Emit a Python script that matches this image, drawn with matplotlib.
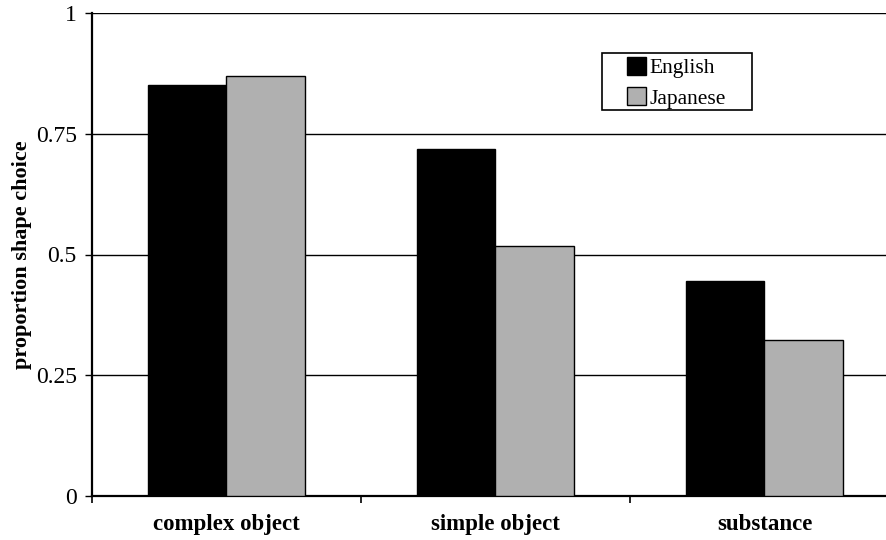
#!/usr/bin/env python3
"""Proportion of shape choices by stimulus type, English vs Japanese."""

import matplotlib as mpl

mpl.use("Agg")

import matplotlib.pyplot as plt
import numpy as np
from matplotlib.patches import Rectangle

categories = ["complex object", "simple object", "substance"]
english = [0.851, 0.718, 0.446]
japanese = [0.870, 0.518, 0.324]
yticks = [0, 0.25, 0.5, 0.75, 1]
ytick_labels = ["0", "0.25", "0.5", "0.75", "1"]

plt.rcParams["font.family"] = ["Liberation Serif", "DejaVu Serif"]

W, H = 886, 540
fig = plt.figure(figsize=(W / 100, H / 100), dpi=100)
ax = fig.add_axes([92 / W, 1 - 496 / H, 807 / W, 483 / H])

x = np.arange(len(categories))
width = 0.29
ax.bar(x - width / 2, english, width, color="black", edgecolor="black",
       lw=1.0, label="English", zorder=3)
ax.bar(x + width / 2, japanese, width, color="#b0b0b0", edgecolor="black",
       lw=1.0, label="Japanese", zorder=3)

ax.set_xlim(-0.5, len(categories) - 0.5)
ax.set_ylim(0, 1)
ax.set_yticks(yticks)
ax.set_yticklabels(ytick_labels, fontsize=17)
ax.yaxis.grid(True, color="black", lw=1.0, zorder=0)
ax.set_axisbelow(True)

ax.set_xticks(x)
ax.set_xticklabels(categories, fontsize=16.5, fontweight="bold")
ax.tick_params(axis="x", length=0, pad=13)
ax.set_xticks(np.arange(len(categories) + 1) - 0.5, minor=True)
ax.tick_params(axis="x", which="minor", length=5, width=1.2, direction="out")
ax.tick_params(axis="y", length=5, width=1.0, direction="out", pad=6)

for side in ("top", "right"):
    ax.spines[side].set_visible(False)
ax.spines["left"].set_linewidth(1.6)
ax.spines["bottom"].set_linewidth(1.6)

ax.set_ylabel("proportion shape choice", fontsize=16, fontweight="bold",
              labelpad=3)

# legend entries without frame, box drawn separately (wide side margins)
ax.legend(loc="upper left", bbox_to_anchor=(627 / W, 1 - 57 / H),
          bbox_transform=fig.transFigure, fontsize=15.5, frameon=False,
          handlelength=0.9, handleheight=0.9, handletextpad=0.15,
          borderpad=0, labelspacing=0.42, borderaxespad=0)
fig.patches.append(Rectangle((602 / W, 1 - 110 / H), 150 / W, 57 / H,
                             transform=fig.transFigure, fill=False,
                             edgecolor="black", lw=1.2))

fig.savefig("out.png", dpi=100)
plt.close(fig)
